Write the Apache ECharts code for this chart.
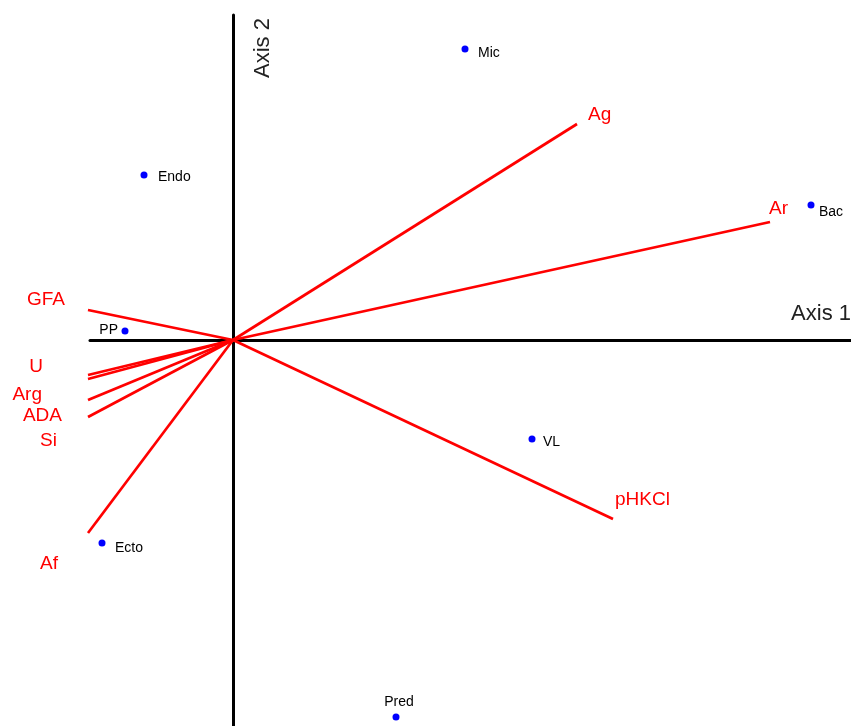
<!DOCTYPE html>
<html>
<head>
<meta charset="utf-8">
<script src="https://cdn.jsdelivr.net/npm/echarts@6/dist/echarts.min.js"></script>
<style>
  html, body { margin: 0; padding: 0; background: #fff; }
  #chart { width: 851px; height: 726px; }
</style>
</head>
<body>
<div id="chart"></div>
<script>
// Sample scores (ordination axes 1 and 2)
const siteNames = ['Mic', 'Endo', 'Bac', 'PP', 'VL', 'Ecto', 'Pred'];
const siteAxis1 = [2.32, -0.89, 5.78, -1.08, 2.99, -1.31, 1.63];
const siteAxis2 = [2.91, 1.65, 1.35, 0.09, -0.99, -2.03, -3.77];

// Environmental variable vectors (arrow tips)
const varNames = ['Ag', 'Ar', 'pHKCl', 'GFA', 'U', 'Arg', 'ADA', 'Si', 'Af'];
const varAxis1 = [3.44, 5.37, 3.80, -1.45, -1.45, -1.45, -1.45, -1.45, -1.45];
const varAxis2 = [2.16, 1.18, -1.79, 0.30, -0.35, -0.39, -0.60, -0.77, -1.93];

// Label placement relative to the tip of each vector (pixels)
const varLabelLayout = {
  Ag:    { dx: 11,  dy: -9,  align: 'left' },
  Ar:    { dx: -1,  dy: -13, align: 'left' },
  pHKCl: { dx: 2,   dy: -19, align: 'left' },
  GFA:   { dx: -23, dy: -10, align: 'right' },
  U:     { dx: -45, dy: -8,  align: 'right' },
  Arg:   { dx: -46, dy: 16,  align: 'right' },
  ADA:   { dx: -26, dy: 16,  align: 'right' },
  Si:    { dx: -31, dy: 24,  align: 'right' },
  Af:    { dx: -30, dy: 31,  align: 'right' }
};

// Label placement relative to each sample symbol
const siteLabelLayout = {
  Mic:  { position: 'right', offset: [9.5, 4] },
  Endo: { position: 'right', offset: [10.5, 2] },
  Bac:  { position: 'right', offset: [4.5, 7] },
  PP:   { position: 'left',  offset: [-3.5, -1] },
  VL:   { position: 'right', offset: [7.5, 3] },
  Ecto: { position: 'right', offset: [9.5, 5] },
  Pred: { position: 'top',   offset: [3, -4.5] }
};

const FONT = 'Arial, "Liberation Sans", sans-serif';

const siteData = siteNames.map((n, i) => ({
  name: n,
  value: [siteAxis1[i], siteAxis2[i]],
  label: Object.assign({}, siteLabelLayout[n])
}));

const varData = varNames.map((n, i) => [varAxis1[i], varAxis2[i]]);

const chart = echarts.init(document.getElementById('chart'), null, { renderer: 'canvas' });

chart.setOption({
  backgroundColor: '#ffffff',
  animation: false,
  grid: { left: 90, right: 0, top: 15, bottom: 0, containLabel: false },
  xAxis: {
    type: 'value',
    min: -1.43,
    max: 6.18,
    axisLine: { onZero: true, lineStyle: { color: '#000', width: 3 } },
    axisTick: { show: false },
    axisLabel: { show: false },
    splitLine: { show: false }
  },
  yAxis: {
    type: 'value',
    min: -3.86,
    max: 3.25,
    axisLine: { onZero: true, lineStyle: { color: '#000', width: 3 } },
    axisTick: { show: false },
    axisLabel: { show: false },
    splitLine: { show: false }
  },
  graphic: [
    {
      type: 'text',
      right: 0,
      top: 303,
      style: { text: 'Axis 1', fill: '#222', font: '22px ' + FONT }
    },
    {
      type: 'text',
      x: 263,
      y: 48,
      rotation: Math.PI / 2,
      style: { text: 'Axis 2', fill: '#222', font: '22px ' + FONT, align: 'center', verticalAlign: 'middle' }
    }
  ],
  series: [
    {
      type: 'custom',
      name: 'variables',
      clip: false,
      data: varData,
      renderItem: function (params, api) {
        const name = varNames[params.dataIndex];
        const lay = varLabelLayout[name];
        const p0 = api.coord([0, 0]);
        const p1 = api.coord([api.value(0), api.value(1)]);
        return {
          type: 'group',
          children: [
            {
              type: 'line',
              shape: { x1: p0[0], y1: p0[1], x2: p1[0], y2: p1[1] },
              style: { stroke: '#ff0000', lineWidth: 2.7 }
            },
            {
              type: 'text',
              x: p1[0] + lay.dx,
              y: p1[1] + lay.dy,
              style: {
                text: name,
                fill: '#ff0000',
                font: '19px ' + FONT,
                align: lay.align,
                verticalAlign: 'middle'
              }
            }
          ]
        };
      },
      z: 3
    },
    {
      type: 'scatter',
      name: 'samples',
      data: siteData,
      symbol: 'circle',
      symbolSize: 7,
      clip: false,
      itemStyle: { color: '#0000ff', opacity: 1 },
      label: {
        show: true,
        formatter: '{b}',
        distance: 0,
        color: '#000',
        fontSize: 14,
        fontFamily: FONT
      },
      emphasis: { disabled: true },
      z: 4
    }
  ]
});
</script>
</body>
</html>
